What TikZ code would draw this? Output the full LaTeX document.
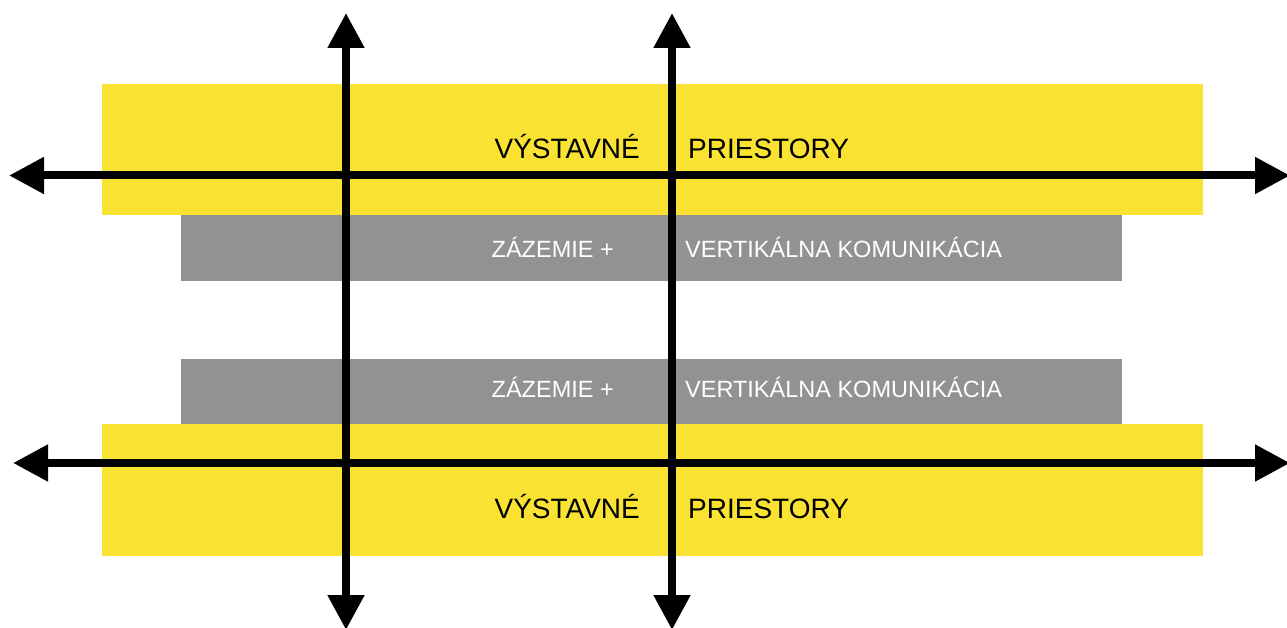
\documentclass[tikz,border=0pt]{standalone}
\usepackage{fontspec}
\setmainfont{Liberation Sans}
\usetikzlibrary{arrows.meta}
\definecolor{zone}{HTML}{F9E232}
\definecolor{serv}{HTML}{929292}
\tikzset{
  band/.style={fill=zone, draw=none},
  servband/.style={fill=serv, draw=none},
  bigtxt/.style={font=\fontsize{28}{31}\selectfont, text=black, inner sep=0pt},
  smalltxt/.style={font=\fontsize{23.5}{26}\selectfont, text=white, inner sep=0pt},
  axis/.style={line width=8pt, {Triangle[length=35pt,width=35pt]}-{Triangle[length=35pt,width=35pt]}}
}
\begin{document}
\begin{tikzpicture}[x=1pt,y=-1pt]
\useasboundingbox (0,0) rectangle (1287,628);
% bands
\fill[band] (102,84) rectangle (1203,215);
\fill[band] (102,424) rectangle (1203,556);
\fill[servband] (181,215) rectangle (1122,281);
\fill[servband] (181,359) rectangle (1122,424);
% labels
\node[bigtxt, anchor=base east] (t1) at (640,159) {VÝSTAVNÉ};
\node[bigtxt, anchor=base west] (t2) at (688,159) {PRIESTORY};
\node[bigtxt, anchor=base east] (t3) at (640,518) {VÝSTAVNÉ};
\node[bigtxt, anchor=base west] (t4) at (688,518) {PRIESTORY};
\node[smalltxt, anchor=base east] (s1) at (614,258) {ZÁZEMIE +};
\node[smalltxt, anchor=base west] (s2) at (685,258) {VERTIKÁLNA KOMUNIKÁCIA};
\node[smalltxt, anchor=base east] (s3) at (614,397) {ZÁZEMIE +};
\node[smalltxt, anchor=base west] (s4) at (685,397) {VERTIKÁLNA KOMUNIKÁCIA};
% axis end points
\coordinate (h1l) at (9,175.5);
\coordinate (h1r) at (1290,175.5);
\coordinate (h2l) at (13,463);
\coordinate (h2r) at (1290,463);
\coordinate (v1t) at (346,13);
\coordinate (v1b) at (346,630);
\coordinate (v2t) at (672,13);
\coordinate (v2b) at (672,630);
% axes
\draw[axis] (h1l) -- (h1r);
\draw[axis] (h2l) -- (h2r);
\draw[axis] (v1t) -- (v1b);
\draw[axis] (v2t) -- (v2b);
\end{tikzpicture}
\end{document}
